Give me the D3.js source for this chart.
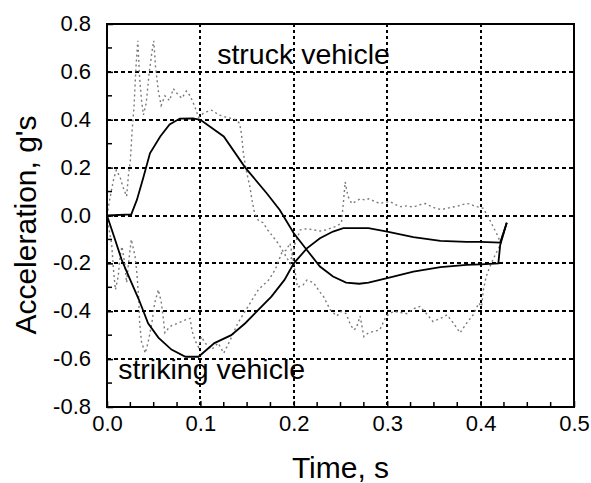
<!DOCTYPE html>
<html><head><meta charset="utf-8">
<script src="https://cdn.jsdelivr.net/npm/d3@7"></script>
<style>
html,body{margin:0;padding:0;background:#fff;}
svg{display:block;}
text{font-family:"Liberation Sans",Arial,sans-serif;fill:#000;}
</style></head>
<body>
<svg id="chart" width="591" height="483"></svg>
<script>
// ---- data ----
const xTickValues = [0, 0.1, 0.2, 0.3, 0.4, 0.5];
const xTickLabels = ["0.0", "0.1", "0.2", "0.3", "0.4", "0.5"];
const yTickValues = [-0.8, -0.6, -0.4, -0.2, 0, 0.2, 0.4, 0.6, 0.8];
const yTickLabels = ["-0.8", "-0.6", "-0.4", "-0.2", "0.0", "0.2", "0.4", "0.6", "0.8"];

// filtered (solid) curves
const struckT = [0, 0.026, 0.032, 0.039, 0.046, 0.057, 0.067, 0.078, 0.092, 0.100, 0.125, 0.148, 0.171, 0.185, 0.200, 0.214, 0.228, 0.242, 0.256, 0.270, 0.280, 0.300, 0.328, 0.357, 0.385, 0.400, 0.419, 0.421, 0.428];
const struckA = [0, 0.005, 0.065, 0.16, 0.26, 0.33, 0.38, 0.405, 0.406, 0.40, 0.33, 0.20, 0.093, 0.023, -0.074, -0.144, -0.213, -0.255, -0.28, -0.285, -0.28, -0.262, -0.234, -0.216, -0.206, -0.204, -0.2, -0.123, -0.03];
const strikingT = [0, 0.0086, 0.0157, 0.025, 0.034, 0.044, 0.055, 0.069, 0.084, 0.098, 0.115, 0.133, 0.148, 0.162, 0.176, 0.19, 0.2, 0.214, 0.228, 0.242, 0.253, 0.28, 0.30, 0.328, 0.357, 0.385, 0.40, 0.421, 0.428];
const strikingA = [0, -0.10, -0.185, -0.27, -0.35, -0.45, -0.51, -0.56, -0.59, -0.59, -0.533, -0.50, -0.45, -0.394, -0.339, -0.269, -0.2, -0.137, -0.095, -0.067, -0.053, -0.053, -0.067, -0.09, -0.106, -0.11, -0.11, -0.113, -0.03];

// raw (dotted) curves
const struckRawT = [0, .003, .007, .010, .014, .017, .021, .023, .025, .027, .029, .031, .033, .035, .037, .039, .042, .045, .048, .050, .052, .055, .058, .062, .067, .071, .075, .080, .085, .089, .094, .098, .104, .112, .120, .128, .134, .138, .142, .144, .146, .149, .153, .155, .158, .162, .167, .172, .178, .184, .190, .196, .201, .207, .214, .221, .228, .235, .241, .246, .251, .253, .255, .258, .262, .267, .271, .276, .280, .286, .292, .297, .303, .309, .314, .321, .328, .335, .341, .346, .352, .358, .364, .369, .374, .380, .385, .389, .393, .398, .403, .410, .417, .421, .428];
const struckRawA = [0, .07, .15, .19, .16, .12, .08, .17, .23, .36, .46, .62, .73, .57, .48, .42, .47, .59, .68, .73, .62, .52, .46, .50, .48, .53, .51, .49, .52, .50, .455, .41, .43, .44, .42, .41, .405, .40, .385, .34, .26, .19, .12, .07, .01, -.02, -.03, -.06, -.09, -.12, -.16, -.20, -.12, -.06, -.055, -.06, -.065, -.06, -.05, -.045, -.03, .05, .14, .08, .05, .06, .07, .065, .07, .06, .05, .055, .058, .045, .037, .04, .035, .045, .05, .04, .03, .025, .03, .035, .037, .045, .05, .048, .04, .035, .03, -.02, -.074, -.11, -.03];
const strikingRawT = [0, .001, .005, .007, .009, .012, .014, .016, .019, .021, .023, .026, .030, .032, .034, .035, .037, .041, .044, .048, .051, .055, .058, .060, .062, .066, .069, .076, .084, .089, .091, .094, .098, .101, .105, .112, .119, .125, .132, .140, .151, .162, .173, .180, .187, .192, .196, .200, .204, .210, .214, .221, .228, .232, .239, .246, .251, .256, .260, .264, .267, .271, .275, .280, .285, .292, .299, .307, .314, .321, .328, .335, .342, .349, .357, .364, .371, .378, .385, .392, .398, .401, .403, .406, .410, .415, .421, .428];
const strikingRawA = [0, -.03, -.12, -.23, -.31, -.255, -.17, -.13, -.20, -.28, -.20, -.10, -.17, -.24, -.35, -.45, -.53, -.575, -.53, -.45, -.366, -.31, -.36, -.42, -.49, -.47, -.46, -.45, -.436, -.43, -.48, -.52, -.55, -.506, -.533, -.56, -.533, -.575, -.52, -.45, -.38, -.31, -.27, -.227, -.157, -.144, -.116, -.20, -.30, -.29, -.27, -.28, -.32, -.34, -.394, -.42, -.40, -.41, -.45, -.478, -.47, -.42, -.506, -.49, -.485, -.478, -.42, -.40, -.405, -.41, -.39, -.38, -.41, -.443, -.43, -.415, -.45, -.49, -.45, -.415, -.366, -.38, -.31, -.255, -.213, -.17, -.123, -.03];

const annotations = [
  {text: "struck vehicle", t: 0.118, a: 0.632},
  {text: "striking vehicle", t: 0.012, a: -0.681}
];
const xTitle = "Time, s";
const yTitle = "Acceleration, g's";

// ---- layout ----
const L = 107, R = 574, T = 24, B = 407;
const svg = d3.select("#chart");
const x = d3.scaleLinear().domain([0, 0.5]).range([L, R]);
const y = d3.scaleLinear().domain([-0.8, 0.8]).range([B, T]);

// grid
const grid = svg.append("g").attr("shape-rendering", "crispEdges");
grid.selectAll("line.gx").data(xTickValues.slice(1, -1)).enter().append("line")
  .attr("x1", d => Math.round(x(d))).attr("x2", d => Math.round(x(d))).attr("y1", T).attr("y2", B)
  .attr("stroke", "#000").attr("stroke-width", 2).attr("stroke-dasharray", "3,3");
grid.selectAll("line.gy").data(yTickValues.slice(1, -1)).enter().append("line")
  .attr("y1", d => Math.round(y(d))).attr("y2", d => Math.round(y(d))).attr("x1", L).attr("x2", R)
  .attr("stroke", "#000").attr("stroke-width", 2).attr("stroke-dasharray", "4,3");

svg.append("defs").append("clipPath").attr("id", "clip")
  .append("rect").attr("x", L).attr("y", T).attr("width", R - L).attr("height", B - T);

const line = d3.line().x(d => x(d[0])).y(d => y(d[1]));
const zip = (ts, as) => ts.map((t, i) => [t, as[i]]);
const plot = svg.append("g").attr("clip-path", "url(#clip)");

plot.append("path").datum(zip(struckRawT, struckRawA)).attr("d", line)
  .attr("fill", "none").attr("stroke", "#7a7a7a").attr("stroke-width", 1.4).attr("stroke-dasharray", "2,3");
plot.append("path").datum(zip(strikingRawT, strikingRawA)).attr("d", line)
  .attr("fill", "none").attr("stroke", "#7a7a7a").attr("stroke-width", 1.4).attr("stroke-dasharray", "2,3");
plot.append("path").datum(zip(struckT, struckA)).attr("d", line)
  .attr("fill", "none").attr("stroke", "#000").attr("stroke-width", 1.8);
plot.append("path").datum(zip(strikingT, strikingA)).attr("d", line)
  .attr("fill", "none").attr("stroke", "#000").attr("stroke-width", 1.8);

// axes (ticks inward)
const xAxis = d3.axisBottom(x).tickValues(xTickValues).tickSize(-6).tickPadding(0).tickFormat((d, i) => xTickLabels[i]);
const gx = svg.append("g").attr("transform", `translate(0,${B})`).call(xAxis);
const xMinor = d3.range(0, 21).map(i => i * 0.025).filter(v => Math.abs(v * 10 - Math.round(v * 10)) > 1e-6);
gx.selectAll("line.minor").data(xMinor).enter().append("line").attr("class", "minor")
  .attr("x1", d => x(d)).attr("x2", d => x(d)).attr("y1", 0).attr("y2", -5)
  .attr("stroke", "#000").attr("stroke-width", 1.5);

const yAxis = d3.axisLeft(y).tickValues(yTickValues).tickSize(-6).tickPadding(0).tickFormat((d, i) => yTickLabels[i]);
const gy = svg.append("g").attr("transform", `translate(${L},0)`).call(yAxis);
const yMinor = d3.range(-7, 8, 2).map(i => i / 10);
gy.selectAll("line.minor").data(yMinor).enter().append("line").attr("class", "minor")
  .attr("y1", d => y(d)).attr("y2", d => y(d)).attr("x1", 0).attr("x2", 5)
  .attr("stroke", "#000").attr("stroke-width", 1.5);

[gx, gy].forEach(g => {
  g.select(".domain").remove();
  g.selectAll(".tick line").attr("stroke", "#000").attr("stroke-width", 1.5);
  g.selectAll("text").attr("font-family", "'Liberation Sans', Arial, sans-serif").attr("font-size", 22).attr("fill", "#000");
});
gx.selectAll(".tick text").attr("y", 24).attr("dy", 0);
gy.selectAll(".tick text").attr("x", -16).attr("dy", "0.30em");

// frame
svg.append("rect").attr("x", L).attr("y", T).attr("width", R - L).attr("height", B - T)
  .attr("fill", "none").attr("stroke", "#000").attr("stroke-width", 2);

// annotations
svg.selectAll("text.ann").data(annotations).enter().append("text").attr("class", "ann")
  .attr("x", d => x(d.t)).attr("y", d => y(d.a))
  .attr("font-size", 28.5).text(d => d.text);

// axis titles
svg.append("text").attr("x", (L + R) / 2).attr("y", 478).attr("text-anchor", "middle")
  .attr("font-size", 30).text(xTitle);
svg.append("text").attr("transform", "translate(36,225) rotate(-90)").attr("text-anchor", "middle")
  .attr("font-size", 30).text(yTitle);
</script>
</body></html>
